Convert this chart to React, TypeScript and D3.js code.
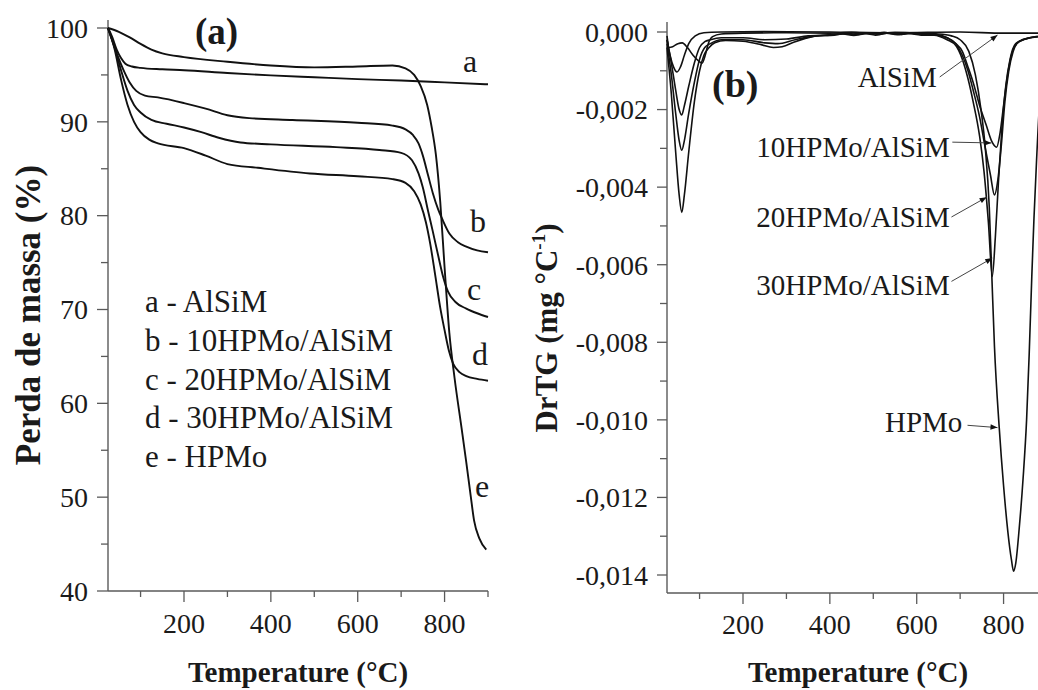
import React from "react";
import * as d3 from "d3";

// ---------- DATA ----------
const tgYTicks = [40, 50, 60, 70, 80, 90, 100];
const tgYMinor = [45, 55, 65, 75, 85, 95];
const tempTicks = [200, 400, 600, 800];
const tempMinor = [100, 300, 500, 700, 900];
const drtgTicks = [0, -0.002, -0.004, -0.006, -0.008, -0.01, -0.012, -0.014];
const drtgTickLabels = ["0,000", "-0,002", "-0,004", "-0,006", "-0,008", "-0,010", "-0,012", "-0,014"];
const drtgMinor = [-0.001, -0.003, -0.005, -0.007, -0.009, -0.011, -0.013];

const legendLabels = ["a - AlSiM", "b - 10HPMo/AlSiM", "c - 20HPMo/AlSiM", "d - 30HPMo/AlSiM", "e - HPMo"];

// TG curves [T (°C), mass %]
const tgA: [number, number][] = [
  [25, 100], [35, 99.0], [45, 97.7], [55, 96.8], [65, 96.2], [80, 95.9], [100, 95.75], [150, 95.6],
  [200, 95.5], [300, 95.2], [400, 94.95], [500, 94.75], [600, 94.55], [700, 94.4], [800, 94.2], [900, 94.0],
];
const tgB: [number, number][] = [
  [25, 100], [45, 97.3], [60, 95.6], [75, 94.2], [90, 93.3], [110, 92.8], [140, 92.6], [200, 92.0],
  [250, 91.4], [300, 90.7], [350, 90.4], [450, 90.2], [600, 89.9], [680, 89.6], [710, 89.2], [727, 88.6],
  [740, 87.7], [750, 86.4], [762, 84.3], [773, 82.4], [785, 80.7], [796, 79.5], [811, 78.1], [830, 77.2],
  [850, 76.7], [875, 76.3], [900, 76.1],
];
const tgC: [number, number][] = [
  [25, 100], [40, 98.0], [55, 95.5], [70, 93.3], [85, 91.8], [100, 91.0], [125, 90.2], [160, 89.8],
  [200, 89.4], [240, 88.9], [280, 88.3], [330, 87.8], [400, 87.6], [550, 87.3], [650, 87.0], [700, 86.7],
  [725, 85.9], [740, 84.5], [750, 83.0], [762, 80.5], [773, 78.3], [785, 75.8], [796, 73.6], [808, 71.9],
  [825, 70.8], [850, 70.1], [875, 69.6], [900, 69.2],
];
const tgD: [number, number][] = [
  [25, 100], [40, 97.8], [55, 94.5], [70, 91.8], [85, 90.0], [100, 88.9], [120, 88.1], [140, 87.7],
  [200, 87.2], [250, 86.4], [300, 85.5], [370, 85.1], [490, 84.5], [600, 84.2], [680, 83.9], [710, 83.5],
  [730, 82.6], [745, 81.2], [757, 79.3], [767, 77.0], [778, 73.8], [790, 70.2], [800, 67.8], [810, 65.6],
  [820, 64.2], [835, 63.3], [850, 62.9], [875, 62.6], [900, 62.4],
];
const tgE: [number, number][] = [
  [25, 100], [50, 99.6], [75, 99.0], [100, 98.3], [125, 97.7], [150, 97.3], [200, 96.9], [300, 96.4],
  [400, 96.0], [500, 95.8], [600, 95.9], [680, 96.0], [710, 95.7], [730, 95.0], [745, 93.8], [760, 91.8],
  [770, 89.5], [780, 86.5], [790, 81.5], [800, 74.5], [811, 67.5], [823, 62.7], [839, 57.4], [850, 53.7],
  [860, 50.2], [868, 47.5], [880, 45.6], [896, 44.4],
];

// DrTG curves [T (°C), mg/°C]
const dtgAlSiM: [number, number][] = [
  [25, -0.0002], [32, -0.0006], [40, -0.0009], [48, -0.00103], [56, -0.0009], [65, -0.0006], [75, -0.0003],
  [90, -0.0001], [110, -0.00002], [150, 0], [250, 0.00001], [400, 0], [550, -0.00002], [700, 0],
  [800, -0.00003], [900, -0.00003],
];
const dtg10: [number, number][] = [
  [25, -0.0002], [35, -0.0008], [45, -0.0015], [53, -0.002], [59, -0.00214], [65, -0.0019], [75, -0.0014],
  [88, -0.0008], [100, -0.0004], [112, -0.00025], [125, -0.0002], [150, -0.00015], [200, -0.00015],
  [250, -0.0002], [300, -0.00018], [350, -0.0001], [400, -0.00007], [425, -0.00004], [450, -0.00006],
  [475, -0.00002], [500, -0.00004], [525, -0.00001], [550, -0.00005], [575, -0.00002], [600, -0.00004],
  [625, -0.00003], [650, -0.00008], [670, -0.00015], [690, -0.0003], [705, -0.0005],
  [718, -0.0009], [730, -0.0013], [745, -0.0019], [760, -0.0024], [772, -0.0028], [784, -0.00297],
  [792, -0.0026], [800, -0.0019], [808, -0.0012], [818, -0.0006], [830, -0.0003], [850, -0.00018],
  [875, -0.00012], [900, -0.0001],
];
const dtg20: [number, number][] = [
  [25, -0.0003], [35, -0.0011], [45, -0.0021], [53, -0.0028], [59, -0.00305], [65, -0.0028], [75, -0.0021],
  [88, -0.0013], [100, -0.0007], [112, -0.0004], [125, -0.0003], [150, -0.0002], [200, -0.0002],
  [250, -0.00028], [280, -0.0003], [320, -0.0002], [370, -0.0001], [410, -0.00008], [440, -0.00003],
  [465, -0.00007], [490, -0.00003], [515, -0.00006], [540, -0.00002], [565, -0.00006], [590, -0.00003],
  [620, -0.00007], [650, -0.00008], [670, -0.00015], [690, -0.0003], [705, -0.0006],
  [718, -0.001], [730, -0.0015], [745, -0.0022], [758, -0.003], [770, -0.0037], [779, -0.0042],
  [787, -0.0038], [795, -0.0029], [803, -0.0018], [812, -0.001], [822, -0.0005], [835, -0.00025],
  [860, -0.00015], [900, -0.0001],
];
const dtg30: [number, number][] = [
  [25, -0.0004], [35, -0.0016], [45, -0.0031], [53, -0.0042], [59, -0.00465], [65, -0.0042], [75, -0.0031],
  [88, -0.0018], [100, -0.001], [110, -0.0006], [122, -0.0004], [135, -0.00028], [160, -0.00022],
  [200, -0.00024], [240, -0.00032], [270, -0.0004], [290, -0.00038], [320, -0.00025], [360, -0.00012],
  [400, -0.00008], [430, -0.00005], [455, -0.00009], [480, -0.00004], [505, -0.00008], [530, -0.00003],
  [555, -0.00007], [580, -0.00004], [610, -0.00008], [640, -0.00008], [670, -0.0002],
  [690, -0.00035], [705, -0.0007], [718, -0.0012], [730, -0.0018], [745, -0.0027], [755, -0.0036],
  [765, -0.0049], [774, -0.0063], [781, -0.0053], [788, -0.0039], [796, -0.0025], [805, -0.0014],
  [815, -0.0007], [828, -0.0003], [850, -0.00018], [900, -0.0001],
];
const dtgHPMo: [number, number][] = [
  [25, -0.0001], [30, -0.0004], [38, -0.00038], [50, -0.0003], [60, -0.00028], [72, -0.0004], [85, -0.0006],
  [98, -0.00075], [106, -0.0008], [113, -0.0006], [120, -0.0003], [130, -0.00012], [150, -0.00005],
  [200, -0.00003], [300, -0.00002], [400, -0.00003], [450, -0.00001], [500, -0.00004], [550, -0.00001],
  [600, -0.00003], [650, -0.00005],
  [680, -0.0001], [700, -0.0002], [720, -0.0005], [735, -0.0011], [748, -0.002], [758, -0.003],
  [767, -0.0045], [773, -0.0063], [779, -0.0081], [790, -0.0102], [800, -0.0117], [810, -0.0129],
  [818, -0.0136], [823, -0.0139], [828, -0.0137], [836, -0.0128], [845, -0.0115], [853, -0.01],
  [859, -0.0083], [865, -0.0063], [870, -0.0048], [876, -0.0033], [883, -0.0018], [890, -0.0009],
  [900, -0.0004],
];

// annotations: label, text end (T, v), arrow from (T, v), arrow to (T, v)
const annotations = [
  { label: "AlSiM", tx: 646, ty: -0.00142, fx: 653, fy: -0.00116, ax: 786, ay: -0.00008 },
  { label: "10HPMo/AlSiM", tx: 676, ty: -0.00323, fx: 682, fy: -0.00284, ax: 772, ay: -0.00286 },
  { label: "20HPMo/AlSiM", tx: 676, ty: -0.00503, fx: 680, fy: -0.00477, ax: 761, ay: -0.00426 },
  { label: "30HPMo/AlSiM", tx: 676, ty: -0.00679, fx: 680, fy: -0.00643, ax: 774, ay: -0.00583 },
  { label: "HPMo", tx: 705, ty: -0.01032, fx: 717, fy: -0.01014, ax: 786, ay: -0.0102 },
];

const curveLetters = [
  { l: "a", x: 463, y: 72 },
  { l: "b", x: 470, y: 232 },
  { l: "c", x: 467, y: 300 },
  { l: "d", x: 472, y: 365 },
  { l: "e", x: 475, y: 497 },
];

// ---------- LAYOUT ----------
const W = 1038;
const H = 690;
const FONT = "'Liberation Serif', 'Times New Roman', serif";
const AXIS = "#5a5a5a";
const INK = "#1a1a1a";

const xL = d3.scaleLinear().domain([25, 900]).range([108, 488]);
const yL = d3.scaleLinear().domain([40, 100]).range([591, 28]);
const xR = d3.scaleLinear().domain([25, 900]).range([667, 1047]);
const yR = d3.scaleLinear().domain([-0.014, 0]).range([575, 32]);

const lineL = d3.line<[number, number]>().x((d) => xL(d[0])).y((d) => yL(d[1])).curve(d3.curveMonotoneX);
const lineR = d3.line<[number, number]>().x((d) => xR(d[0])).y((d) => yR(d[1])).curve(d3.curveMonotoneX);

export default function App() {
  const leftAxisX = 108;
  const leftBottom = 591;
  const rightAxisX = 667;
  const rightBottom = 593;
  return (
    <svg
      width={W}
      height={H}
      viewBox={`0 0 ${W} ${H}`}
      style={{ position: "absolute", left: 0, top: 0, background: "#fff" }}
      fontFamily={FONT}
    >
      <defs>
        <marker id="arr" viewBox="0 0 10 10" refX="10" refY="5" markerWidth="9" markerHeight="7" orient="auto" markerUnits="userSpaceOnUse">
          <path d="M0,1 L10,5 L0,9 Z" fill="#111" />
        </marker>
      </defs>
      <rect x={0} y={0} width={W} height={H} fill="#fff" />

      {/* ===== LEFT PANEL (a) ===== */}
      <g>
        <line x1={leftAxisX} x2={leftAxisX} y1={20} y2={leftBottom} stroke={AXIS} strokeWidth={1.4} />
        <line x1={leftAxisX} x2={xL(900)} y1={leftBottom} y2={leftBottom} stroke={AXIS} strokeWidth={1.4} />
        {tgYTicks.map((t) => (
          <g key={"ly" + t}>
            <line x1={leftAxisX - 11} x2={leftAxisX} y1={yL(t)} y2={yL(t)} stroke={AXIS} strokeWidth={1.3} />
            <text x={88} y={yL(t)} dy="0.35em" textAnchor="end" fontSize={28} fill={INK}>
              {t}
            </text>
          </g>
        ))}
        {tgYMinor.map((t) => (
          <line key={"lym" + t} x1={leftAxisX - 7} x2={leftAxisX} y1={yL(t)} y2={yL(t)} stroke={AXIS} strokeWidth={1.3} />
        ))}
        {tempTicks.map((t) => (
          <g key={"lx" + t}>
            <line x1={xL(t)} x2={xL(t)} y1={leftBottom} y2={leftBottom + 11} stroke={AXIS} strokeWidth={1.3} />
            <text x={xL(t)} y={633} textAnchor="middle" fontSize={28} fill={INK}>
              {t}
            </text>
          </g>
        ))}
        {tempMinor.map((t) => (
          <line key={"lxm" + t} x1={xL(t)} x2={xL(t)} y1={leftBottom} y2={leftBottom + 6} stroke={AXIS} strokeWidth={1.3} />
        ))}
        <text x={298} y={682} textAnchor="middle" fontSize={29} fontWeight="bold" fill={INK}>
          Temperature (°C)
        </text>
        <text transform="translate(40,315) rotate(-90)" textAnchor="middle" fontSize={35} fontWeight="bold" fill={INK}>
          Perda de massa (%)
        </text>
        <text x={195} y={44} fontSize={37} fontWeight="bold" fill={INK}>
          (a)
        </text>

        {[tgA, tgB, tgC, tgD, tgE].map((d, i) => (
          <path key={"tg" + i} d={lineL(d) || ""} fill="none" stroke="#111" strokeWidth={1.9} />
        ))}
        {curveLetters.map((c) => (
          <text key={c.l} x={c.x} y={c.y} fontSize={32} fill={INK}>
            {c.l}
          </text>
        ))}
        {legendLabels.map((s, i) => (
          <text key={s} x={145} y={312 + i * 38.8} fontSize={31} fill={INK}>
            {s}
          </text>
        ))}
      </g>

      {/* ===== RIGHT PANEL (b) ===== */}
      <g>
        <line x1={rightAxisX} x2={rightAxisX} y1={22} y2={rightBottom} stroke={AXIS} strokeWidth={1.4} />
        <line x1={rightAxisX} x2={xR(900)} y1={rightBottom} y2={rightBottom} stroke={AXIS} strokeWidth={1.4} />
        {drtgTicks.map((t, i) => (
          <g key={"ry" + i}>
            <line x1={rightAxisX - 10} x2={rightAxisX} y1={yR(t)} y2={yR(t)} stroke={AXIS} strokeWidth={1.3} />
            <text x={648} y={yR(t)} dy="0.35em" textAnchor="end" fontSize={28} fill={INK}>
              {drtgTickLabels[i]}
            </text>
          </g>
        ))}
        {drtgMinor.map((t, i) => (
          <line key={"rym" + i} x1={rightAxisX - 7} x2={rightAxisX} y1={yR(t)} y2={yR(t)} stroke={AXIS} strokeWidth={1.3} />
        ))}
        {tempTicks.map((t) => (
          <g key={"rx" + t}>
            <line x1={xR(t)} x2={xR(t)} y1={rightBottom} y2={rightBottom + 11} stroke={AXIS} strokeWidth={1.3} />
            <text x={xR(t)} y={634} textAnchor="middle" fontSize={28} fill={INK}>
              {t}
            </text>
          </g>
        ))}
        {tempMinor.map((t) => (
          <line key={"rxm" + t} x1={xR(t)} x2={xR(t)} y1={rightBottom} y2={rightBottom + 6} stroke={AXIS} strokeWidth={1.3} />
        ))}
        <text x={858} y={682} textAnchor="middle" fontSize={29} fontWeight="bold" fill={INK}>
          Temperature (°C)
        </text>
        <text transform="translate(557,328) rotate(-90)" textAnchor="middle" fontSize={31} fontWeight="bold" fill={INK}>
          DrTG (mg °C
          <tspan fontSize={19} dy={-12}>
            -1
          </tspan>
          <tspan dy={12}>)</tspan>
        </text>
        <text x={712} y={97} fontSize={38} fontWeight="bold" fill={INK}>
          (b)
        </text>

        {[dtgHPMo, dtg30, dtg20, dtg10, dtgAlSiM].map((d, i) => (
          <path key={"dtg" + i} d={lineR(d) || ""} fill="none" stroke="#111" strokeWidth={1.6} />
        ))}

        {annotations.map((a) => (
          <g key={a.label}>
            <text x={xR(a.tx)} y={yR(a.ty)} textAnchor="end" fontSize={29} fill={INK}>
              {a.label}
            </text>
            <line x1={xR(a.fx)} y1={yR(a.fy)} x2={xR(a.ax)} y2={yR(a.ay)} stroke="#444" strokeWidth={1} markerEnd="url(#arr)" />
          </g>
        ))}
      </g>
    </svg>
  );
}
